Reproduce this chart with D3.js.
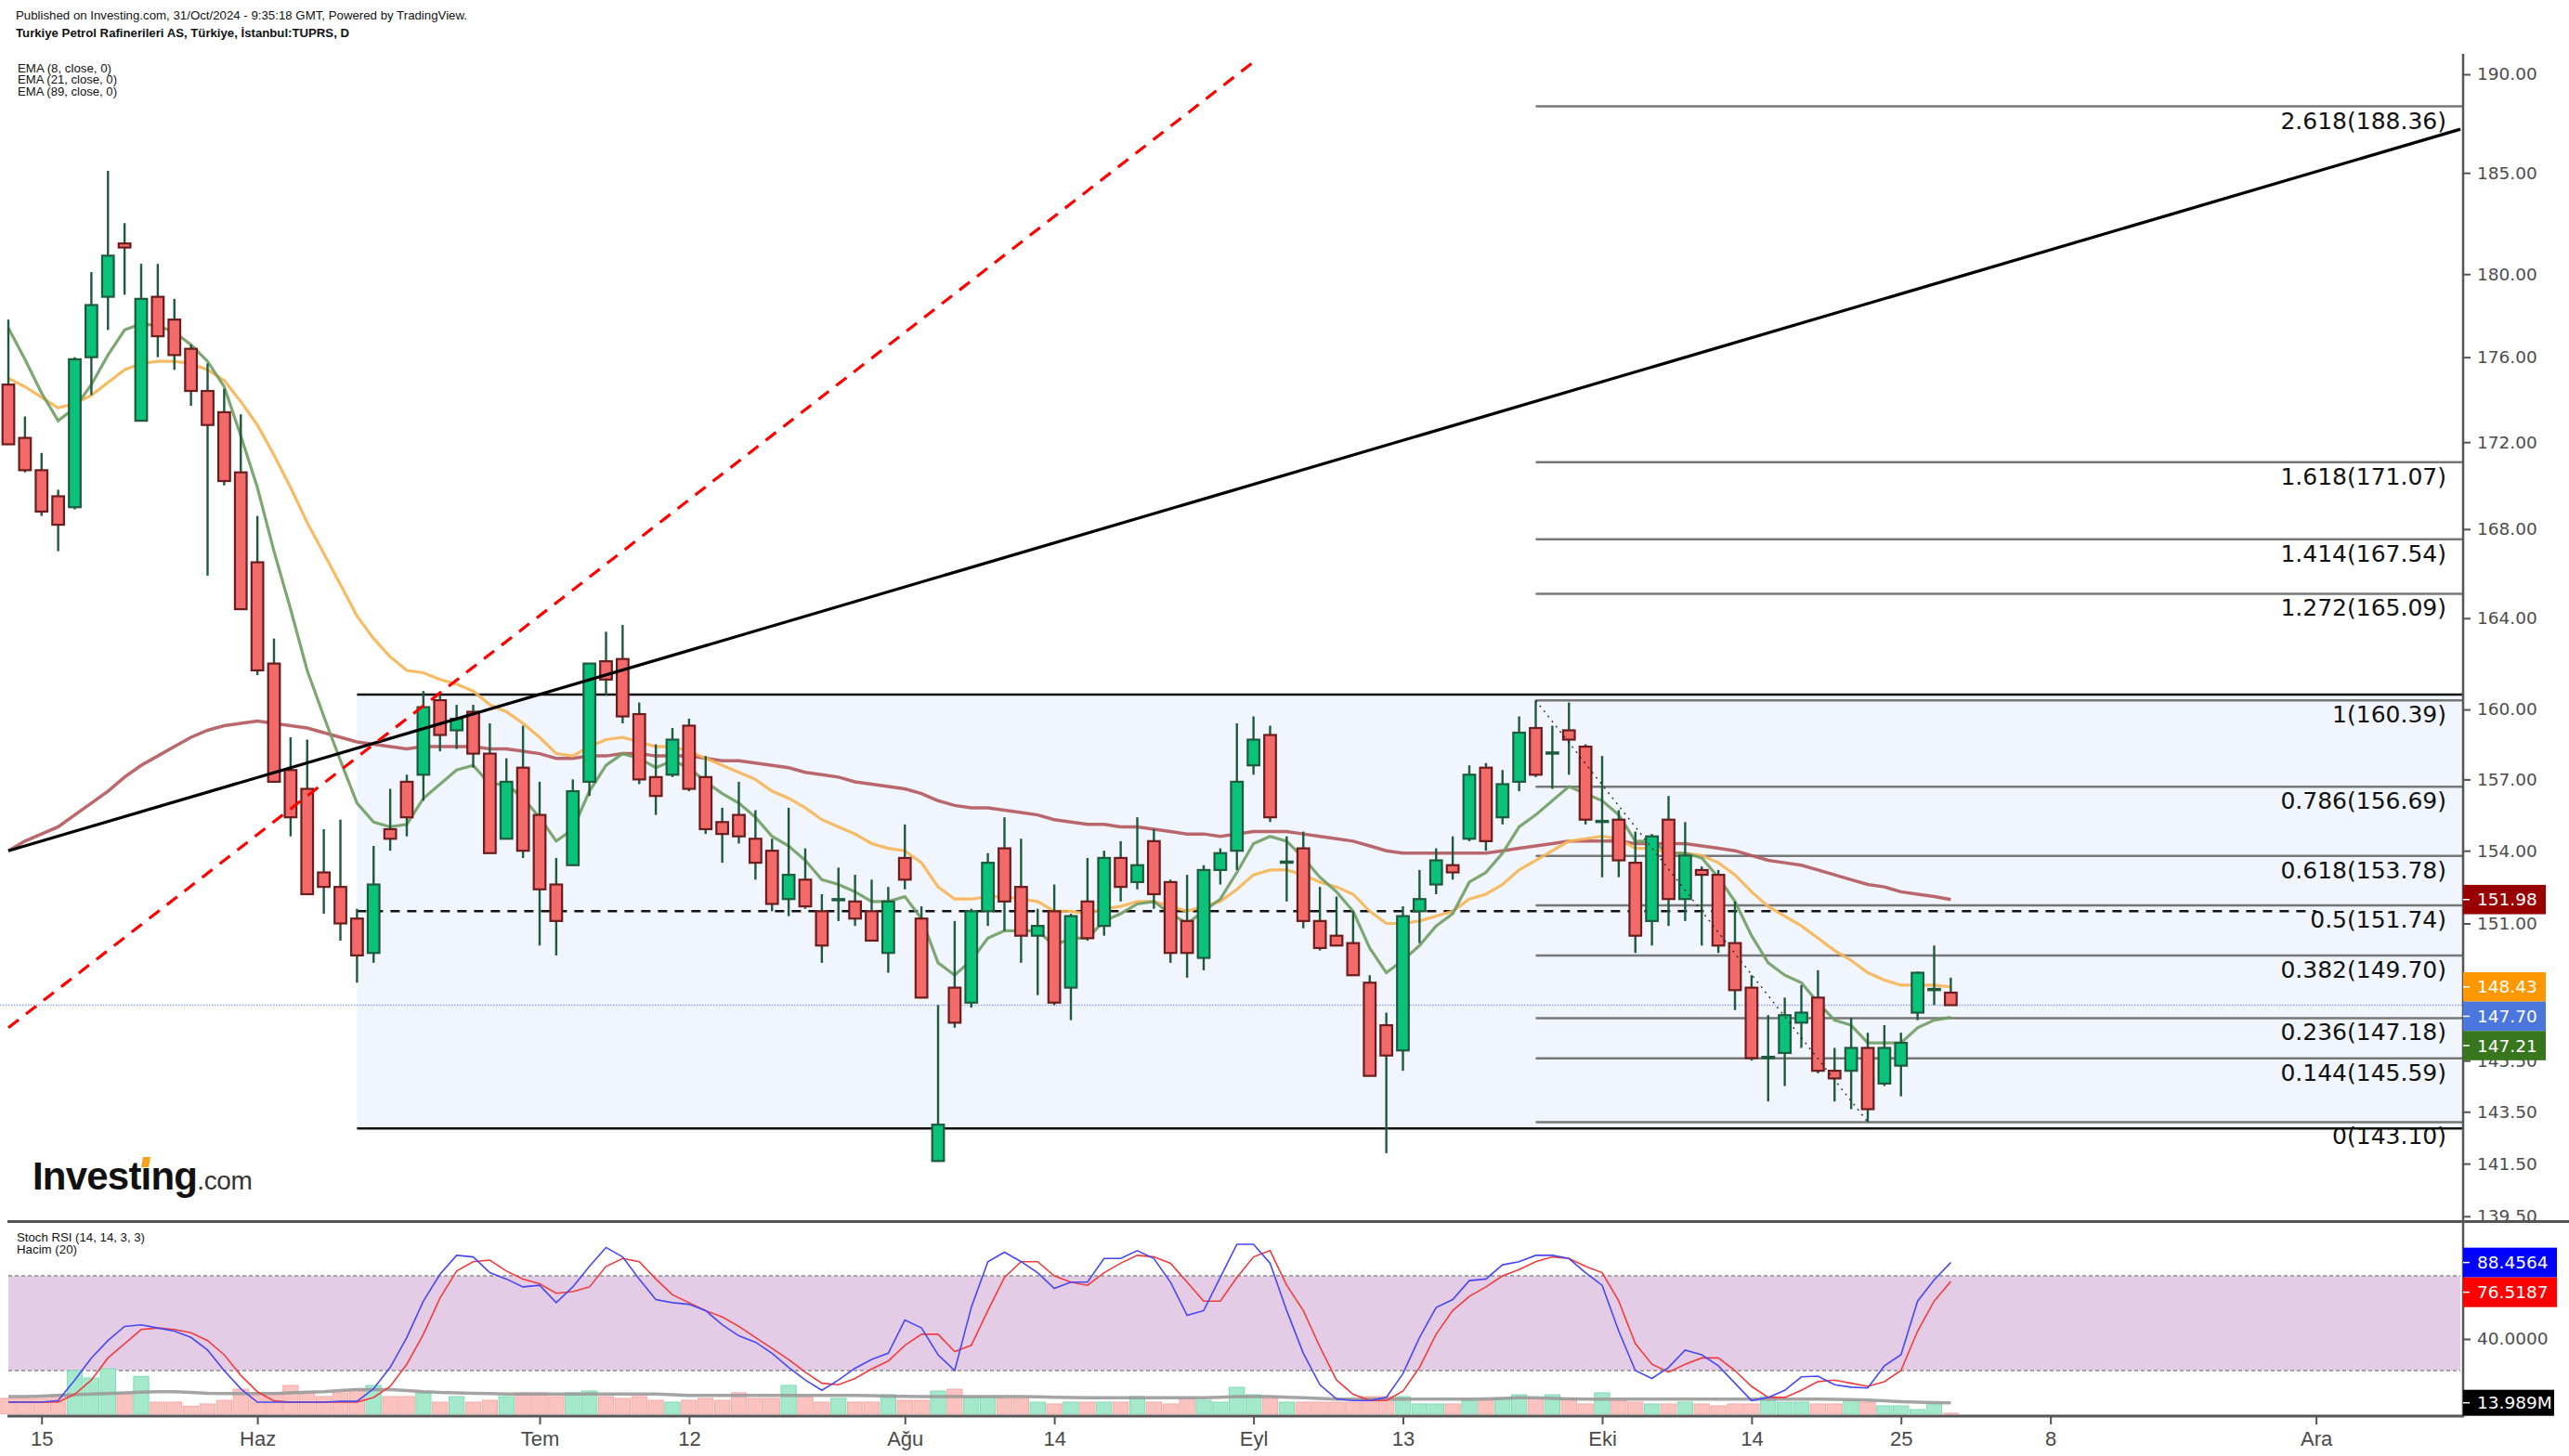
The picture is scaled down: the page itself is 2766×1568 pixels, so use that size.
<!DOCTYPE html>
<html><head><meta charset="utf-8">
<script src="https://cdn.jsdelivr.net/npm/d3@7"></script>
<style>body{margin:0;background:#fff}svg{display:block}</style>
</head><body>
<svg id="c" width="2766" height="1568"></svg>
<script>
// ---------------- DATA ----------------
const startDate = "2024-05-13";
const holidays = ["2024-06-17","2024-06-18","2024-06-19","2024-07-15","2024-08-30","2024-10-29"];
const open = [174.7,172.2,170.7,169.5,169.0,176.0,178.9,181.5,173.0,178.9,
177.8,176.4,174.4,173.4,170.6,166.5,162.0,157.4,156.6,153.1,
152.5,151.2,149.8,154.9,156.9,157.2,160.4,159.1,159.9,158.1,
154.5,157.5,155.5,152.6,153.4,156.9,162.1,162.2,159.8,157.1,
157.2,159.3,157.1,155.2,155.5,154.5,154.0,152.0,152.8,151.5,
151.95,151.9,151.5,149.8,153.7,151.2,141.6,148.4,147.8,151.5,
154.1,152.5,150.5,151.5,148.4,151.9,150.9,153.7,152.7,154.4,
152.7,151.1,149.6,153.2,154.0,157.6,158.9,153.5,154.1,151.1,
150.5,150.2,148.6,146.9,145.9,151.5,152.6,153.4,154.5,157.5,
155.4,156.9,159.2,158.1,159.1,158.4,155.2,155.3,153.5,151.1,
155.3,152.0,153.2,153.0,150.2,148.4,145.6,145.8,147.0,148.0,
145.1,145.1,146.0,144.6,145.3,147.4,148.3,148.2];
const high = [177.8,173.2,171.5,169.8,176.0,180.1,185.1,182.5,180.5,180.5,
178.8,176.6,175.7,174.5,173.3,168.6,163.1,158.8,158.7,154.9,
155.3,151.6,154.2,156.6,157.2,160.8,160.6,160.2,160.2,159.4,
157.9,159.3,156.9,153.7,157.0,162.0,163.4,163.7,160.3,158.5,
159.2,159.6,158.0,155.8,156.9,155.7,154.5,155.8,154.1,152.2,
153.3,153.0,152.8,152.5,155.1,151.7,147.7,151.1,151.6,153.9,
155.4,154.5,151.6,152.6,151.4,153.7,154.0,154.4,155.4,154.9,
152.8,153.0,153.4,154.1,159.4,159.7,159.3,154.6,154.8,152.5,
152.1,151.5,148.9,147.4,151.7,153.2,154.1,154.6,157.6,157.7,
157.4,159.7,160.39,159.3,160.3,158.5,158.0,155.7,154.8,154.7,
156.3,155.2,153.35,153.2,151.9,148.9,147.3,148.0,148.5,149.1,
146.0,147.2,146.6,146.9,146.6,149.05,150.1,148.8];
const low = [171.9,170.6,168.6,167.0,168.9,174.2,177.3,179.0,173.0,176.0,
175.4,173.7,165.9,170.0,164.4,161.5,156.9,154.6,152.2,151.4,
150.3,148.6,149.4,154.0,154.6,156.1,158.2,158.3,157.5,153.9,
154.5,153.7,150.1,149.7,153.4,156.3,160.6,159.4,156.8,155.5,
157.1,156.5,154.7,153.5,154.3,152.8,151.5,151.3,151.6,149.4,
151.1,150.9,150.3,149.0,152.4,148.0,141.6,146.8,147.6,150.9,
150.7,149.4,148.1,147.7,147.1,150.3,150.5,151.9,152.4,151.6,
149.4,148.8,149.1,152.6,153.2,157.2,155.2,151.9,150.8,149.9,
150.1,148.9,144.9,141.9,145.1,150.2,152.2,152.8,154.4,154.0,
155.1,156.5,157.1,156.6,157.2,155.1,152.9,152.9,149.8,150.1,
150.9,151.1,150.1,149.8,147.5,145.5,143.9,144.5,146.0,145.0,
143.9,143.6,143.1,144.5,144.1,147.1,147.7,147.7];
const close = [171.9,170.7,168.8,168.2,175.9,178.5,180.9,181.3,178.8,177.0,
176.1,174.4,172.8,170.2,164.4,161.7,156.9,155.4,152.2,152.5,
151.0,149.7,152.6,154.5,155.4,160.1,158.9,159.6,158.1,153.9,
156.9,154.0,152.4,151.1,156.5,162.0,161.3,159.7,157.0,156.3,
158.7,156.6,154.9,154.7,154.6,153.5,151.8,153.0,151.7,150.1,
152.0,151.2,150.3,151.9,152.8,148.0,143.0,147.0,151.5,153.5,
151.9,150.5,150.9,147.8,151.3,150.4,153.7,152.5,153.4,152.2,
149.8,149.8,153.2,153.9,156.9,158.7,155.4,153.55,151.1,150.0,
150.1,148.9,144.9,145.7,151.3,152.0,153.6,153.1,157.2,154.4,
156.8,159.0,157.2,158.15,158.7,155.3,155.25,153.6,150.5,154.6,
152.0,153.8,153.0,150.1,148.3,145.6,145.65,147.3,147.4,145.1,
144.8,146.0,143.6,146.0,146.2,149.0,148.35,147.7];
const ema8 = [177.4,175.9,174.3,173.0,173.6,174.7,176.1,177.3,177.6,177.5,
177.2,176.6,175.8,174.6,172.3,169.9,167.0,164.4,161.7,159.7,
157.8,156.0,155.2,155.0,155.1,156.2,156.8,157.4,157.6,156.8,
156.8,156.2,155.4,154.4,154.9,156.5,157.6,158.1,157.9,157.5,
157.8,157.5,156.9,156.4,156.0,155.4,154.6,154.2,153.6,152.8,
152.6,152.3,151.9,151.9,152.1,151.2,149.4,148.9,149.5,150.4,
150.7,150.7,150.7,150.1,150.4,150.4,151.1,151.4,151.8,151.9,
151.4,151.0,151.5,152.0,153.1,154.3,154.6,154.4,153.7,152.9,
152.3,151.5,150.0,149.0,149.5,150.1,150.9,151.4,152.7,153.1,
153.9,155.0,155.5,156.1,156.7,156.4,156.1,155.5,154.4,154.4,
153.9,153.9,153.7,152.9,151.9,150.5,149.4,148.9,148.6,147.8,
147.1,146.9,146.2,146.2,146.2,146.8,147.1,147.21];
const ema21 = [175.0,174.6,174.1,173.6,173.8,174.2,174.8,175.4,175.7,175.8,
175.8,175.7,175.4,174.9,173.9,172.8,171.4,169.9,168.3,166.9,
165.5,164.1,163.1,162.3,161.7,161.6,161.3,161.1,160.8,160.2,
159.9,159.4,158.8,158.1,158.0,158.4,158.7,158.8,158.6,158.4,
158.4,158.2,157.9,157.6,157.3,157.0,156.5,156.2,155.8,155.3,
155.0,154.7,154.3,154.1,154.0,153.5,152.5,152.0,152.0,152.1,
152.1,152.0,151.9,151.5,151.5,151.4,151.6,151.7,151.9,151.9,
151.7,151.5,151.7,151.9,152.4,153.0,153.2,153.2,153.0,152.7,
152.5,152.2,151.5,151.0,151.0,151.1,151.3,151.5,152.0,152.2,
152.6,153.2,153.6,154.0,154.4,154.5,154.6,154.5,154.1,154.1,
153.9,153.9,153.8,153.5,153.0,152.3,151.7,151.3,150.9,150.4,
149.9,149.5,149.0,148.7,148.5,148.5,148.5,148.43];
const ema89 = [154.0,154.4,154.7,155.0,155.5,156.0,156.5,157.1,157.6,158.0,
158.4,158.8,159.1,159.3,159.4,159.5,159.4,159.3,159.2,159.0,
158.8,158.6,158.5,158.4,158.3,158.4,158.4,158.4,158.4,158.3,
158.3,158.2,158.1,157.9,157.9,158.0,158.0,158.1,158.1,158.0,
158.0,158.0,157.9,157.8,157.8,157.7,157.6,157.5,157.3,157.2,
157.1,156.9,156.8,156.7,156.6,156.4,156.1,155.9,155.8,155.8,
155.7,155.6,155.5,155.3,155.2,155.1,155.1,155.0,155.0,154.9,
154.8,154.7,154.7,154.6,154.7,154.8,154.8,154.8,154.7,154.6,
154.5,154.4,154.2,154.0,153.9,153.9,153.9,153.9,153.9,153.9,
154.0,154.1,154.2,154.3,154.4,154.4,154.4,154.4,154.3,154.3,
154.3,154.3,154.2,154.1,154.0,153.8,153.6,153.5,153.4,153.2,
153.0,152.8,152.6,152.5,152.3,152.2,152.1,151.98];
const volume = [19.5,19.5,19.5,24.1,54.4,45.1,56.8,26.1,47.1,14.8,
14.8,9.7,12.5,17.1,31.1,26.5,26.5,35.8,26.5,21.8,
26.5,31.1,35.8,21.8,21.8,26.5,14.8,21.8,14.8,17.1,
21.8,26.5,26.5,21.8,26.5,28.8,21.8,19.5,21.8,17.1,
14.8,17.1,19.5,17.1,26.5,19.5,19.5,35.8,21.8,14.8,
19.5,14.8,14.8,24.1,17.1,17.1,28.8,31.1,21.8,21.8,
19.5,19.5,14.8,12.5,14.8,14.8,14.8,14.8,21.8,14.8,
12.5,19.5,17.1,14.8,33.4,24.1,19.5,14.8,14.8,14.8,
14.8,14.8,21.8,21.8,21.8,12.5,12.5,12.5,17.1,17.1,
19.5,24.1,19.5,24.1,19.5,12.5,26.5,17.1,14.8,12.5,
12.5,14.8,12.5,10.1,12.5,12.5,21.8,14.8,14.8,12.5,
12.5,17.1,14.8,10.1,10.1,5.5,13.3,0.8];
const volumeMA = [21.8,21.8,22.5,23.3,24.1,24.9,25.7,26.5,27.3,28.0,
28.0,27.0,26.0,25.7,25.7,25.7,25.7,26.5,27.3,28.0,
29.5,30.4,30.4,30.4,29.5,28.0,27.0,26.5,26.0,25.7,
25.0,24.9,24.9,24.9,24.9,24.9,24.9,24.9,24.9,24.9,
24.0,23.3,23.3,23.3,23.3,23.3,23.3,23.3,23.3,23.3,
23.3,23.3,23.0,22.5,22.0,21.8,21.8,21.8,21.8,21.8,
21.8,21.8,21.5,21.0,20.6,20.2,20.2,20.2,20.2,20.2,
20.2,20.2,20.2,21.0,21.8,21.8,21.8,21.0,20.2,19.5,
18.7,18.7,18.7,18.7,18.7,18.7,18.7,18.7,18.7,19.0,
19.5,20.2,20.2,19.5,19.0,18.7,18.7,18.7,18.7,18.7,
18.7,18.7,18.7,18.7,18.7,18.7,18.7,18.7,18.7,18.7,
18.3,17.9,17.5,16.5,15.5,14.8,14.3,13.989];
const stochK = [0,0,0,1,14,28,39,48,49,47,
45,41,33,20,8.5,0,0,0,0,0,
0.5,0.5,8.5,22,41,64,81,93,92,82,
78,73,74,63,73,86,98,92,78,65,
63,62,58,49,42,38,31,22,14,7.5,
14,21.5,27,31,52,47,30,20,60,89,
95,89,82,72,76,76,91,91,96,91,
76,55,58,79,100,100,88,58,31,11,
2,1,1,3,18,41,60,65,77,78,
87,89,93,93,91,82,74,45,20,15,
22,33,30,23,12,1,3,7.5,16,16.5,
11,9.5,9,23,30,64,77.5,88.4564];
const stochD = [0,0,0,0,5,14,28,37,46,47,
46,44,39,30,17,6.6,0.8,0,0,0,
0,0,3,10,24,43,66,83,89,90,
83,78,75,69,70,73,86,91,89,78,
68,63,58,54,48,41,34,27,19,12,
11,15,21,26,36,43,43,32,36,58,
79,89,89,80,76,74,82,88,93,92,
88,76,64,64,79,92,96,74,58,35,
14,5,1,1,7,22,43,58,67,73,
80,84,89,92,91,86,82,64,37,24,
19,24,28,28,20,10,3,3,7.5,13,
14,12,10,13,20,45,64,76.5187];
const xTickLabels = ["15","Haz","Tem","12","Ağu","14","Eyl","13","Eki","14","25","8","Ara"];
const xTickDates = ["2024-05-15","2024-06-03","2024-07-01","2024-07-12","2024-08-01","2024-08-14","2024-09-02","2024-09-13","2024-10-01","2024-10-14","2024-10-25","2024-11-08","2024-12-02"];
const priceTicks = [190,185,180,176,172,168,164,160,157,154,151,148.5,145.5,143.5,141.5,139.5];
const fibRatios = ["2.618","1.618","1.414","1.272","1","0.786","0.618","0.5","0.382","0.236","0.144","0"];
const fibPrices = [188.36,171.07,167.54,165.09,160.39,156.69,153.78,151.74,149.70,147.18,145.59,143.10];
const fibAnchorDates = ["2024-09-25","2024-10-23"];
const rangeBox = {from:"2024-06-11", top:160.65, bottom:142.85};
const midLine = {from:"2024-06-11", to:"2024-12-02", price:151.5};
const trendBlack = [[0,154.0],[147.7,187.2]];   // [bar index, price]
const trendRed = [[0,146.8],[75.1,190.7]];
const lastPrice = 147.70;
const priceBoxes = [{v:151.98,t:"151.98",c:"#990000"},{v:148.43,t:"148.43",c:"#ff9800"},{v:147.70,t:"147.70",c:"#4a76de"},{v:147.21,t:"147.21",c:"#38761d"}];
const stochBoxes = [{v:88.4564,t:"88.4564",c:"#0000ff"},{v:76.5187,t:"76.5187",c:"#ff0000"}];
const volBox = {v:13.989,t:"13.989M",c:"#000"};

// ---------------- CALENDAR ----------------
const cal = [];
{ let d = new Date(startDate+"T00:00:00Z");
  while (cal.length < 160) {
    const s = d.toISOString().slice(0,10), wd = d.getUTCDay();
    if (wd!==0 && wd!==6 && !holidays.includes(s)) cal.push(s);
    d.setUTCDate(d.getUTCDate()+1);
  } }
const idx = s => cal.indexOf(s);

// ---------------- SCALES ----------------
const svg = d3.select("#c");
svg.append("rect").attr("width",2766).attr("height",1568).attr("fill","#fff");
const AX = 2652;
const x = d3.scaleLinear().domain([0,139]).range([9, 9+139*17.875]);
const y = d3.scaleLog().domain([139.5,190]).range([1309.8,80]);
const ys = d3.scaleLinear().domain([0,100]).range([1510,1340]);
const yv = d3.scaleLinear().domain([0,60]).range([1522.7,1522.7-60*0.858]);
const step = 17.875;

const defs = svg.append("defs");
defs.append("clipPath").attr("id","mainClip").append("rect").attr("x",0).attr("y",40).attr("width",AX).attr("height",1314-40);
defs.append("clipPath").attr("id","lblClip").append("rect").attr("x",0).attr("y",0).attr("width",2766).attr("height",1314);
defs.append("clipPath").attr("id","subClip").append("rect").attr("x",0).attr("y",1317).attr("width",AX).attr("height",1523-1317);

const main = svg.append("g").attr("clip-path","url(#mainClip)");

// range box
const bx0 = x(idx(rangeBox.from));
main.append("rect").attr("x",bx0).attr("y",y(rangeBox.top)).attr("width",AX-bx0).attr("height",y(rangeBox.bottom)-y(rangeBox.top)).attr("fill","#f1f5fd");
[rangeBox.top,rangeBox.bottom].forEach(p=>main.append("line").attr("x1",bx0).attr("x2",AX).attr("y1",y(p)).attr("y2",y(p)).attr("stroke","#111").attr("stroke-width",2.5));

// current price dotted line
main.append("line").attr("x1",0).attr("x2",AX).attr("y1",y(lastPrice)).attr("y2",y(lastPrice)).attr("stroke","#8ea6ee").attr("stroke-width",1.5).attr("stroke-dasharray","1.5,1.5");

// fib lines
const fx0 = x(idx(fibAnchorDates[0]));
fibPrices.forEach(p=>main.append("line").attr("x1",fx0).attr("x2",AX).attr("y1",y(p)).attr("y2",y(p)).attr("stroke","#777").attr("stroke-width",2.5));

// dashed horizontal
main.append("line").attr("x1",x(idx(midLine.from))).attr("x2",x(idx(midLine.to))).attr("y1",y(midLine.price)).attr("y2",y(midLine.price)).attr("stroke","#111").attr("stroke-width",2.5).attr("stroke-dasharray","10,8");

// EMAs
const lineGen = d3.line().x((d,i)=>x(i)).y(d=>y(d));
main.append("path").attr("d",lineGen(ema89)).attr("fill","none").attr("stroke","#b3585c").attr("stroke-width",3.5).attr("stroke-opacity",0.9);
main.append("path").attr("d",lineGen(ema21)).attr("fill","none").attr("stroke","#f7b454").attr("stroke-width",3.2).attr("stroke-opacity",0.9);
main.append("path").attr("d",lineGen(ema8)).attr("fill","none").attr("stroke","#6f9d63").attr("stroke-width",3.2).attr("stroke-opacity",0.9);

// candles
const cg = main.append("g");
close.forEach((c,i)=>{
  const o=open[i], up = c>=o, cx=x(i);
  cg.append("line").attr("x1",cx).attr("x2",cx).attr("y1",y(high[i])).attr("y2",y(low[i])).attr("stroke","#1f5a3d").attr("stroke-width",2.4);
  const y0=y(Math.max(o,c)), y1=y(Math.min(o,c));
  cg.append("rect").attr("x",cx-6.3).attr("width",12.6).attr("y",y0).attr("height",Math.max(y1-y0,0.5))
    .attr("fill",up?"#0bc27a":"#f26a6a").attr("stroke",up?"#1e5b3c":"#6b1d1d").attr("stroke-width",2.2);
});

// trend lines
main.append("line").attr("x1",x(trendBlack[0][0])).attr("y1",y(trendBlack[0][1])).attr("x2",x(trendBlack[1][0])).attr("y2",y(trendBlack[1][1])).attr("stroke","#000").attr("stroke-width",3.2);
main.append("line").attr("x1",x(trendRed[0][0])).attr("y1",y(trendRed[0][1])).attr("x2",x(trendRed[1][0])).attr("y2",y(trendRed[1][1])).attr("stroke","#ff0000").attr("stroke-width",3.2).attr("stroke-dasharray","14,10");
// fib anchor diagonal
main.append("line").attr("x1",x(idx(fibAnchorDates[0]))).attr("y1",y(fibPrices[4])).attr("x2",x(idx(fibAnchorDates[1]))).attr("y2",y(fibPrices[11])).attr("stroke","#222").attr("stroke-width",1.4).attr("stroke-dasharray","2,5");

// fib labels
fibPrices.forEach((p,k)=>main.append("text").attr("x",2634).attr("y",y(p)+24).attr("text-anchor","end")
  .attr("font-family","DejaVu Sans, Verdana, sans-serif").attr("font-size",25).attr("fill","#111").text(fibRatios[k]+"("+p.toFixed(2)+")"));

// ---------------- SUB PANE ----------------
const sub = svg.append("g").attr("clip-path","url(#subClip)");
sub.append("rect").attr("x",9).attr("width",2640).attr("y",ys(80)).attr("height",ys(20)-ys(80)).attr("fill","#e4cce6");
[80,20].forEach(v=>sub.append("line").attr("x1",9).attr("x2",2649).attr("y1",ys(v)).attr("y2",ys(v)).attr("stroke","#a3a3a3").attr("stroke-width",2).attr("stroke-dasharray","4,3"));
volume.forEach((v,i)=>{
  const up = close[i]>=open[i];
  sub.append("rect").attr("x",x(i)-step/2+0.8).attr("width",step-1.6).attr("y",yv(v)).attr("height",yv(0)-yv(v))
    .attr("fill",up?"#a4e9cc":"#fbc3c0").attr("stroke",up?"#7fdcb6":"#f6a9a5").attr("stroke-width",1);
});
sub.append("path").attr("d",d3.line().x((d,i)=>x(i)).y(d=>yv(d))(volumeMA)).attr("fill","none").attr("stroke","#9a9a9a").attr("stroke-width",3.5).attr("stroke-opacity",0.9);
const sl = d3.line().x((d,i)=>x(i)).y(d=>ys(d));
sub.append("path").attr("d",sl(stochD)).attr("fill","none").attr("stroke","#f03c3c").attr("stroke-width",1.6);
sub.append("path").attr("d",sl(stochK)).attr("fill","none").attr("stroke","#4848f0").attr("stroke-width",1.6);

// ---------------- FRAME / AXES ----------------
svg.append("line").attr("x1",8).attr("x2",2766).attr("y1",1315.5).attr("y2",1315.5).attr("stroke","#555").attr("stroke-width",3);
svg.append("line").attr("x1",8).attr("x2",AX+1).attr("y1",1525).attr("y2",1525).attr("stroke","#555").attr("stroke-width",3);
svg.append("line").attr("x1",AX).attr("x2",AX).attr("y1",58).attr("y2",1526).attr("stroke","#555").attr("stroke-width",2.5);

const axFont = "DejaVu Sans, Verdana, sans-serif";
const yAxis = svg.append("g").attr("clip-path","url(#lblClip)").append("g").attr("transform",`translate(${AX},0)`)
  .call(d3.axisRight(y).tickValues(priceTicks).tickFormat(d3.format(".2f")).tickSize(8).tickPadding(7));
yAxis.select(".domain").remove();
yAxis.selectAll("line").attr("stroke","#555").attr("stroke-width",2);
yAxis.selectAll("text").attr("font-family",axFont).attr("font-size",18.5).attr("fill","#4d4d4d");

const sAxis = svg.append("g").attr("transform",`translate(${AX},0)`)
  .call(d3.axisRight(ys).tickValues([40]).tickFormat(d3.format(".4f")).tickSize(8).tickPadding(7));
sAxis.select(".domain").remove();
sAxis.selectAll("line").attr("stroke","#555").attr("stroke-width",2);
sAxis.selectAll("text").attr("font-family",axFont).attr("font-size",18.5).attr("fill","#4d4d4d");

const xAxis = svg.append("g").attr("transform","translate(0,1525)")
  .call(d3.axisBottom(x).tickValues(xTickDates.map(idx)).tickFormat((d,i)=>xTickLabels[i]).tickSize(9).tickPadding(7));
xAxis.select(".domain").remove();
xAxis.selectAll("line").attr("stroke","#555").attr("stroke-width",2);
xAxis.selectAll("text").attr("font-family","Liberation Sans Narrow, Liberation Sans, Arial, sans-serif").attr("font-size",22).attr("fill","#4a4a4a");

// value boxes
function boxes(list, scale, h, w){
  let prevBottom = -1e9;
  list.map(b=>({...b, yc:scale(b.v)})).sort((a,b)=>a.yc-b.yc).forEach(b=>{
    let top = b.yc - h/2; if (top < prevBottom) top = prevBottom; prevBottom = top + h;
    svg.append("rect").attr("x",AX).attr("y",top).attr("width",w).attr("height",h).attr("fill",b.c);
    svg.append("line").attr("x1",AX).attr("x2",AX+7).attr("y1",top+h/2).attr("y2",top+h/2).attr("stroke","#fff").attr("stroke-width",1.5);
    svg.append("text").attr("x",AX+15).attr("y",top+h/2+6.5).attr("font-family",axFont).attr("font-size",18.5).attr("fill","#fff").text(b.t);
  });
}
boxes(priceBoxes, y, 31.6, 89);
boxes(stochBoxes, ys, 32, 101);
boxes([volBox], yv, 28, 98);

// ---------------- TEXTS ----------------
const narrow = "Liberation Sans Narrow, Liberation Sans, Arial, sans-serif";
svg.append("text").attr("x",17).attr("y",21).attr("font-family",narrow).attr("font-size",13.5).attr("fill","#111")
  .attr("textLength",486).attr("lengthAdjust","spacingAndGlyphs").text("Published on Investing.com, 31/Oct/2024 - 9:35:18 GMT, Powered by TradingView.");
svg.append("text").attr("x",17).attr("y",40).attr("font-family",narrow).attr("font-size",13.5).attr("font-weight","bold").attr("fill","#111")
  .attr("textLength",359).attr("lengthAdjust","spacingAndGlyphs").text("Turkiye Petrol Rafinerileri AS, Türkiye, İstanbul:TUPRS, D");
[["EMA (8, close, 0)",101],["EMA (21, close, 0)",107],["EMA (89, close, 0)",107]].forEach((t,k)=>
  svg.append("text").attr("x",19).attr("y",78+k*12.3).attr("font-family",narrow).attr("font-size",13).attr("fill","#111")
    .attr("textLength",t[1]).attr("lengthAdjust","spacingAndGlyphs").text(t[0]));
svg.append("text").attr("x",18).attr("y",1337).attr("font-family",narrow).attr("font-size",13).attr("fill","#111")
  .attr("textLength",138).attr("lengthAdjust","spacingAndGlyphs").text("Stoch RSI (14, 14, 3, 3)");
svg.append("text").attr("x",18).attr("y",1350).attr("font-family",narrow).attr("font-size",13).attr("fill","#111")
  .attr("textLength",65).attr("lengthAdjust","spacingAndGlyphs").text("Hacim (20)");

// logo
const logo = svg.append("text").attr("x",35).attr("y",1281).attr("font-family","Liberation Sans, Arial, sans-serif");
logo.append("tspan").attr("font-weight","bold").attr("font-size",42).attr("letter-spacing",-0.8).attr("fill","#111").text("Investıng");
logo.append("tspan").attr("font-size",28).attr("fill","#333").attr("letter-spacing",-0.3).text(".com");
try {
  const n = logo.node(); const s = n.getStartPositionOfChar(6), e = n.getEndPositionOfChar(6);
  const cx = (s.x+e.x)/2;
  svg.append("polygon").attr("points",`${cx-3},1246 ${cx+5},1246 ${cx+3},1257 ${cx-5},1257`).attr("fill","#f7a21b");
} catch(err) {}
</script>
</body></html>
